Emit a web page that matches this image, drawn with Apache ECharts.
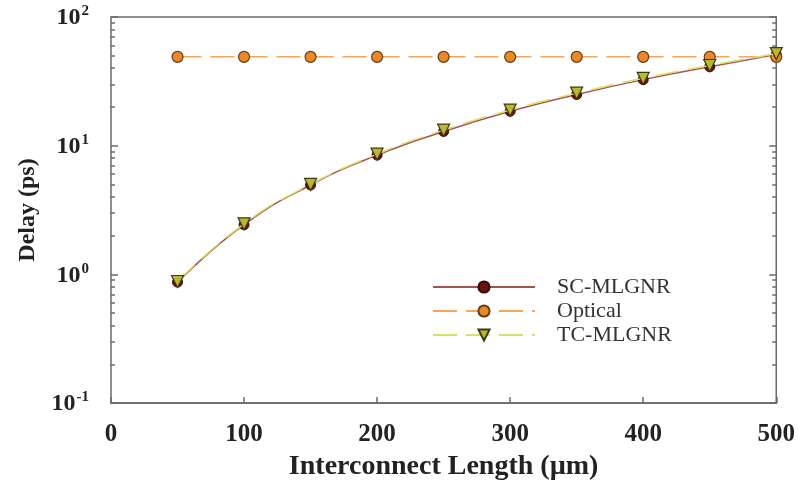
<!DOCTYPE html>
<html>
<head>
<meta charset="utf-8">
<style>
  html, body { margin: 0; padding: 0; background: #fff; }
  #chart { width: 798px; height: 486px; }
</style>
<script src="https://cdn.jsdelivr.net/npm/echarts@6/dist/echarts.min.js"></script>
</head>
<body>
<div id="chart"></div>
<script>
// Interconnect lengths (µm)
const lengths = [50, 100, 150, 200, 250, 300, 350, 400, 450, 500];
// Delay (ps) per interconnect type
const scMlgnr = [0.87, 2.43, 4.95, 8.45, 12.9, 18.5, 25.0, 32.6, 41.0, 51.0];
const optical = [49, 49, 49, 49, 49, 49, 49, 49, 49, 49];
const tcMlgnr = [0.88, 2.47, 5.0, 8.6, 13.2, 18.9, 25.6, 33.4, 42.0, 52.0];
// Log-axis tick values
const majorTicks = [0.1, 1, 10, 100];
const minorTicks = [0.2, 0.3, 0.4, 0.5, 0.6, 0.7, 0.8, 0.9,
                    2, 3, 4, 5, 6, 7, 8, 9,
                    20, 30, 40, 50, 60, 70, 80, 90];
const tickLabels = { '0.1': ['10', '-1'], '1': ['10', '0'], '10': ['10', '1'], '100': ['10', '2'] };

const pair = (ys) => lengths.map((x, i) => [x, ys[i]]);
const serif = '"Liberation Serif", "Times New Roman", serif';
const axisGrey = '#6b6b6b';

function yAxisDef(position, ticks, len, showLabel) {
  return {
    type: 'log', logBase: 10, min: 0.1, max: 100, position: position,
    axisLine: { show: false },
    splitLine: { show: false },
    axisTick: { show: true, inside: true, length: len, customValues: ticks,
                lineStyle: { color: axisGrey, width: 1.5 } },
    axisLabel: showLabel ? {
      show: true, customValues: majorTicks, margin: 22,
      formatter: (v) => {
        const key = String(+v.toPrecision(3));
        const t = tickLabels[key] || ['10', ''];
        return '{b|' + t[0] + '}{s|' + t[1] + '}';
      },
      rich: {
        b: { fontFamily: serif, fontWeight: 'bold', fontSize: 24, color: '#222', verticalAlign: 'bottom' },
        s: { fontFamily: serif, fontWeight: 'bold', fontSize: 15, color: '#222',
             verticalAlign: 'bottom', padding: [0, 0, 11, 1] }
      }
    } : { show: false }
  };
}

const chart = echarts.init(document.getElementById('chart'), null, { renderer: 'canvas' });
chart.setOption({
  animation: false,
  backgroundColor: '#fff',
  grid: { left: 111, right: 20, top: 17, bottom: 81, show: true,
          borderColor: axisGrey, borderWidth: 1.5, backgroundColor: 'transparent' },
  legend: {
    left: 427, top: 271, orient: 'vertical', itemWidth: 102, itemHeight: 14, itemGap: 2,
    textStyle: { fontFamily: serif, fontSize: 22, color: '#333', padding: [0, 0, 0, 17] },
    data: ['SC-MLGNR', 'Optical', 'TC-MLGNR']
  },
  xAxis: {
    type: 'value', min: 0, max: 500, interval: 100,
    name: 'Interconnect Length (µm)', nameLocation: 'middle', nameGap: 50,
    nameTextStyle: { fontFamily: serif, fontWeight: 'bold', fontSize: 28, color: '#222' },
    axisLine: { show: true, onZero: false, lineStyle: { color: axisGrey, width: 1.5 } },
    axisTick: { show: true, inside: true, length: 6, lineStyle: { color: axisGrey, width: 1.5 } },
    axisLabel: { fontFamily: serif, fontWeight: 'bold', fontSize: 25, color: '#222', margin: 19 },
    splitLine: { show: false }
  },
  yAxis: [
    Object.assign(yAxisDef('left', majorTicks, 7, true), {
      name: 'Delay (ps)', nameLocation: 'middle', nameGap: 71, nameRotate: 90,
      nameTextStyle: { fontFamily: serif, fontWeight: 'bold', fontSize: 24, color: '#222' }
    }),
    yAxisDef('left', minorTicks, 4, false),
    yAxisDef('right', majorTicks, 7, false),
    yAxisDef('right', minorTicks, 4, false)
  ],
  series: [
    {
      name: 'SC-MLGNR', type: 'line', data: pair(scMlgnr), smooth: true,
      symbol: 'circle', symbolSize: 10,
      lineStyle: { color: '#a8544e', width: 1.5 },
      itemStyle: { color: '#6e1010', borderColor: '#3a0808', borderWidth: 1 },
      z: 2
    },
    {
      name: 'Optical', type: 'line', data: pair(optical),
      symbol: 'circle', symbolSize: 11,
      lineStyle: { color: '#f4a65e', width: 1.5, type: [24, 9] },
      itemStyle: { color: '#e8892a', borderColor: '#6a3a10', borderWidth: 1.2 },
      z: 3
    },
    {
      name: 'TC-MLGNR', type: 'line', data: pair(tcMlgnr), smooth: true,
      symbol: 'triangle', symbolRotate: 180, symbolSize: 12,
      lineStyle: { color: '#d8e06a', width: 1.5, type: [24, 9] },
      itemStyle: { color: '#b8b832', borderColor: '#3c3a10', borderWidth: 1.2 },
      z: 4
    }
  ]
});
</script>
</body>
</html>
